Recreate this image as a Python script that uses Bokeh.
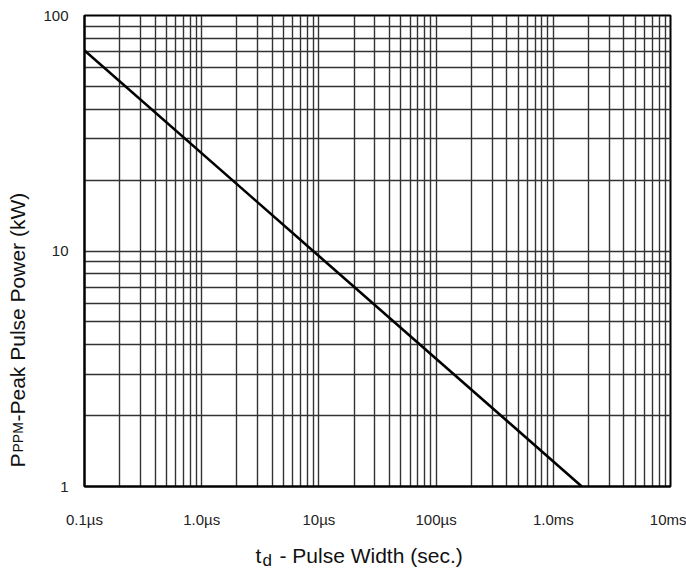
import math
from bokeh.plotting import figure
from bokeh.models import FixedTicker, Label, Range1d
from bokeh.layouts import row, column
from bokeh.embed import file_html
from bokeh.resources import INLINE

# ---- data ----
pulse_width_s = [1e-7, 1.75e-3]
peak_power_kw = [71.0, 1.0]

x_ticks = [1e-7, 1e-6, 1e-5, 1e-4, 1e-3, 1e-2]
x_tick_labels = ["0.1µs", "1.0µs", "10µs", "100µs", "1.0ms", "10ms"]
y_ticks = [1, 10, 100]
y_tick_labels = ["1", "10", "100"]

x_minor = [m * t for t in x_ticks[:-1] for m in range(2, 10)]
y_minor = [m * t for t in y_ticks[:-1] for m in range(2, 10)]

FONT = "Liberation Sans"
TXT = "#111111"

# layout geometry (page pixels)
W, H = 686, 569
YLAB_W = 40
XLAB_H = 39
FRAME_L = 84          # frame left on page
BL = FRAME_L - YLAB_W # main figure left border
BR = 16

p = figure(width=W - YLAB_W, height=H - XLAB_H, x_axis_type="log", y_axis_type="log",
           x_range=Range1d(1e-7, 1e-2), y_range=Range1d(1, 100),
           output_backend="svg", toolbar_location=None,
           min_border_left=BL, min_border_right=BR, min_border_top=15,
           min_border_bottom=(H - XLAB_H) - 489)

p.background_fill_color = "white"
p.border_fill_color = "white"
p.outline_line_color = "black"
p.outline_line_width = 2
p.outline_line_alpha = 1

for ax in (p.xaxis[0], p.yaxis[0]):
    ax.axis_line_color = "black"
    ax.axis_line_width = 2
    ax.major_tick_line_color = None
    ax.minor_tick_line_color = None
    ax.major_tick_out = 0
    ax.minor_tick_out = 0
    ax.major_label_text_font = FONT
    ax.major_label_text_font_size = "15px"
    ax.major_label_text_color = "#222222"

p.xaxis.ticker = FixedTicker(ticks=x_ticks, minor_ticks=x_minor)
p.yaxis.ticker = FixedTicker(ticks=y_ticks, minor_ticks=y_minor)
p.xaxis.major_label_overrides = {t: s for t, s in zip(x_ticks, x_tick_labels)}
p.yaxis.major_label_overrides = {t: s for t, s in zip(y_ticks, y_tick_labels)}
p.xaxis.major_label_standoff = 24
p.yaxis.major_label_standoff = 16

for g in (p.xgrid[0], p.ygrid[0]):
    g.grid_line_color = "#333333"
    g.grid_line_width = 1.4
    g.minor_grid_line_color = "#333333"
    g.minor_grid_line_width = 1.4

p.line(pulse_width_s, peak_power_kw, line_color="black", line_width=2.6)


def text_panel(w, h, bl=0, br=0):
    f = figure(width=w, height=h, output_backend="svg", toolbar_location=None,
               x_range=Range1d(0, 1), y_range=Range1d(0, 1),
               x_axis_location=None, y_axis_location=None,
               min_border=0, min_border_left=bl, min_border_right=br,
               min_border_top=0, min_border_bottom=0)
    f.grid.visible = False
    f.outline_line_color = None
    f.background_fill_color = "white"
    f.border_fill_color = "white"
    return f


def lab(f, x, y, text, size, angle=0.0):
    f.add_layout(Label(x=x, y=y, x_units="screen", y_units="screen", text=text, angle=angle,
                       text_font=FONT, text_font_size=size, text_color=TXT,
                       text_align="left", text_baseline="alphabetic"))


# y title panel: P_PPM-Peak Pulse Power (kW), reading bottom to top
ylab = text_panel(YLAB_W, H)
ang = math.pi / 2
BX = 17
lab(ylab, BX, H - 467, "P", "21px", ang)
lab(ylab, BX, H - 452, "PPM", "14px", ang)
lab(ylab, BX, H - 421, "-Peak Pulse Power (kW)", "21px", ang)

# x title panel: t_d - Pulse Width (sec.)  (frame aligned with main frame)
xlab = text_panel(W - YLAB_W, XLAB_H, BL, BR)
BY = H - 555
lab(xlab, 255 - FRAME_L, BY, "t", "21px")
lab(xlab, 262 - FRAME_L, BY - 5, "d", "17px")
lab(xlab, 279 - FRAME_L, BY, "- Pulse Width (sec.)", "21px")

layout = row(ylab, column(p, xlab, spacing=0), spacing=0)

open("out.html", "w").write(file_html(layout, INLINE))
